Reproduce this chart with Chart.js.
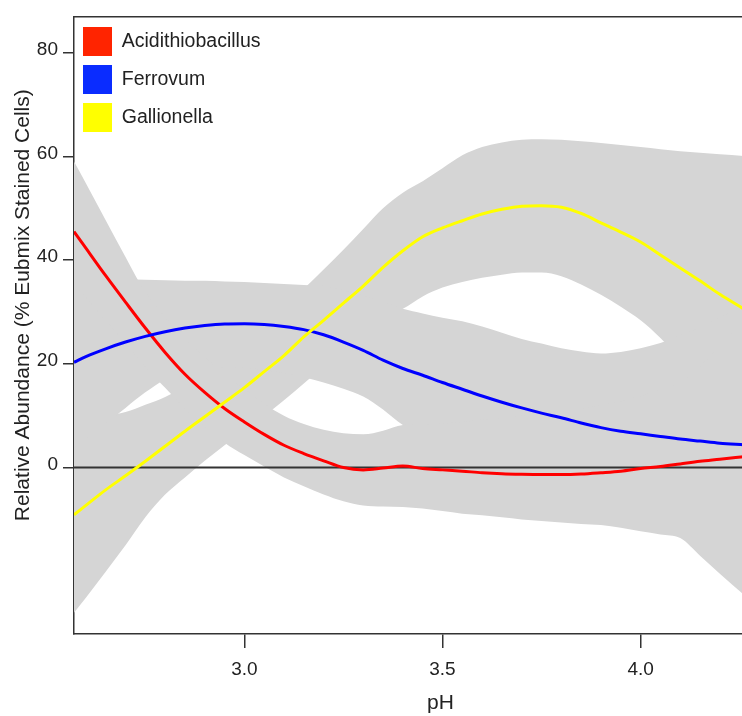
<!DOCTYPE html>
<html>
<head>
<meta charset="utf-8">
<script src="https://cdn.jsdelivr.net/npm/chart.js@4.4.1/dist/chart.umd.min.js"></script>
<style>
  html, body { margin: 0; padding: 0; background: #ffffff; }
  #wrap { width: 742px; height: 716px; overflow: hidden; position: relative; }
  canvas { display: block; }
</style>
</head>
<body>
<div id="wrap"><canvas id="c" width="815" height="716"></canvas></div>
<script>
// ---- data ----
const pH = [2.57, 2.6, 2.65, 2.7, 2.75, 2.8, 2.85, 2.9, 2.95, 3.0, 3.05, 3.1, 3.15, 3.2, 3.25, 3.3, 3.35, 3.4, 3.45, 3.5, 3.55, 3.6, 3.65, 3.7, 3.75, 3.8, 3.85, 3.9, 3.95, 4.0, 4.05, 4.1, 4.15, 4.2, 4.26];

const acidithiobacillus = [45.5, 42.3, 37.0, 31.9, 26.9, 22.2, 18.0, 14.5, 11.4, 8.8, 6.4, 4.3, 2.7, 1.3, 0.0, -0.45, -0.1, 0.3, -0.2, -0.45, -0.7, -1.0, -1.2, -1.3, -1.35, -1.35, -1.25, -1.0, -0.7, -0.2, 0.2, 0.7, 1.2, 1.6, 2.1];
const ferrovum = [20.3, 21.4, 22.9, 24.2, 25.3, 26.2, 26.9, 27.4, 27.7, 27.75, 27.6, 27.2, 26.6, 25.6, 24.2, 22.6, 20.7, 19.1, 17.8, 16.4, 15.1, 13.8, 12.6, 11.5, 10.5, 9.6, 8.6, 7.7, 7.0, 6.5, 6.0, 5.5, 5.1, 4.7, 4.4];
const gallionella = [-9.1, -7.3, -4.3, -1.6, 1.2, 4.1, 7.0, 9.8, 12.6, 15.4, 18.5, 21.6, 25.2, 28.4, 31.7, 35.0, 38.6, 41.8, 44.5, 46.2, 47.6, 48.9, 49.8, 50.4, 50.5, 50.2, 49.0, 47.2, 45.4, 43.5, 41.0, 38.5, 36.0, 33.4, 30.6];

const acidiLower = [35.5, 32.8, 28.3, 24.0, 19.4, 15.4, 11.4, 7.9, 4.8, 2.4, 0.2, -1.9, -3.6, -5.2, -6.5, -7.3, -7.5, -7.6, -7.9, -8.4, -8.9, -9.2, -9.6, -10.0, -10.3, -10.6, -10.9, -11.1, -11.6, -12.3, -12.9, -13.6, -17.0, -20.5, -24.5];
const acidiUpper = [59.0, 54.8, 47.7, 40.6, 33.8, 29.0, 24.8, 21.3, 18.0, 15.2, 12.3, 10.0, 8.4, 7.3, 6.6, 6.4, 7.1, 8.2, 8.3, 8.5, 8.8, 9.2, 9.6, 10.0, 10.4, 10.8, 11.3, 12.0, 12.8, 13.8, 15.0, 16.5, 19.5, 23.5, 28.0];
const ferroLower = [3.8, 5.5, 8.5, 11.5, 14.5, 17.0, 18.4, 19.1, 19.3, 19.2, 18.8, 18.2, 17.4, 16.4, 15.2, 13.7, 11.2, 8.2, 6.6, 5.0, 3.6, 2.0, 0.5, -1.0, -2.5, -4.0, -5.5, -7.0, -8.5, -10.0, -11.5, -13.0, -15.0, -17.0, -19.0];
const ferroUpper = [37.0, 36.8, 36.5, 36.3, 36.2, 36.1, 36.0, 36.0, 35.9, 35.8, 35.6, 35.4, 35.2, 35.0, 34.2, 33.2, 32.0, 30.6, 29.7, 28.9, 28.2, 27.2, 26.0, 24.8, 23.9, 23.0, 22.4, 22.0, 22.3, 23.0, 24.0, 25.5, 27.0, 29.0, 31.0];
const gallioLower = [-28.0, -25.1, -20.1, -15.0, -9.6, -5.2, -1.9, 1.3, 4.3, 7.2, 10.0, 13.0, 16.2, 19.5, 22.8, 26.0, 28.7, 30.6, 33.0, 34.7, 35.8, 36.6, 37.2, 37.6, 37.6, 36.9, 35.3, 33.3, 31.0, 28.4, 25.0, 21.0, 16.5, 11.5, 5.0];
const gallioUpper = [10.0, 10.0, 10.1, 10.7, 12.1, 13.6, 15.8, 18.6, 21.8, 24.8, 28.0, 31.2, 34.5, 38.2, 42.0, 46.0, 50.0, 53.0, 55.2, 57.7, 60.2, 61.8, 62.7, 63.2, 63.3, 63.2, 62.9, 62.6, 62.2, 61.8, 61.4, 61.0, 60.7, 60.4, 60.1];

const seriesNames = ['Acidithiobacillus', 'Ferrovum', 'Gallionella'];
const lineColors = ['#ff0000', '#0000ff', '#ffff00'];
const legendColors = ['#ff2400', '#0a2cff', '#ffff00'];
const xTicks = [3.0, 3.5, 4.0];
const yTicks = [0, 20, 40, 60, 80];
const xRange = [2.57, 4.42];
const yRange = [-32.1, 87.0];
const referenceLevel = 0;
const xTitle = 'pH';
const yTitle = 'Relative Abundance (% Eubmix Stained Cells)';

// ---- chart ----
const GREY = '#d5d5d5';
const AXIS = '#333333';
const FONT = "'Liberation Sans', Arial, Helvetica, sans-serif";
Chart.defaults.font.family = FONT;
Chart.defaults.color = '#222222';

const pts = ys => pH.map((x, i) => ({ x: x, y: ys[i] }));
const line = (label, ys, color, order) => ({
  label: label, data: pts(ys), borderColor: color, backgroundColor: color,
  borderWidth: 3, pointRadius: 0, fill: false, order: order,
  cubicInterpolationMode: 'monotone'
});
const band = (ys, fill) => ({
  label: '', data: pts(ys), borderWidth: 0, borderColor: GREY, backgroundColor: GREY,
  pointRadius: 0, fill: fill, order: 3, cubicInterpolationMode: 'monotone'
});

const datasets = [
  line(seriesNames[0], acidithiobacillus, lineColors[0], 0.2),
  line(seriesNames[1], ferrovum, lineColors[1], 0.1),
  line(seriesNames[2], gallionella, lineColors[2], 0),
  { label: '', data: [{ x: xRange[0], y: referenceLevel }, { x: xRange[1], y: referenceLevel }],
    borderColor: AXIS, borderWidth: 2, pointRadius: 0, fill: false, order: 1 },
  band(acidiLower, false),
  band(acidiUpper, '-1'),
  band(ferroLower, false),
  band(ferroUpper, '-1'),
  band(gallioLower, false),
  band(gallioUpper, '-1')
];

// legend placed inside the plot area, just below its top edge
const legendInside = {
  id: 'legendInside',
  afterLayout(chart) {
    const lg = chart.legend;
    if (!lg) return;
    const dy = chart.chartArea.top + 1.5 - lg.top;
    lg.top += dy; lg.bottom += dy;
  }
};
// rotated y axis title
const yTitlePlugin = {
  id: 'yTitlePlugin',
  afterDraw(chart) {
    const ctx = chart.ctx;
    const cy = (chart.chartArea.top + chart.chartArea.bottom) / 2 - 20;
    ctx.save();
    ctx.translate(23, cy);
    ctx.rotate(-Math.PI / 2);
    ctx.font = '21px ' + FONT;
    ctx.fillStyle = '#222222';
    ctx.textAlign = 'center';
    ctx.textBaseline = 'middle';
    ctx.fillText(yTitle, 0, 0);
    ctx.restore();
  }
};

new Chart(document.getElementById('c'), {
  type: 'line',
  data: { datasets: datasets },
  plugins: [legendInside, yTitlePlugin],
  options: {
    responsive: false,
    animation: false,
    devicePixelRatio: 1,
    layout: { padding: { top: 12, right: 8, left: 0, bottom: 0 } },
    plugins: {
      tooltip: { enabled: false },
      legend: {
        position: 'chartArea',
        align: 'start',
        labels: {
          boxWidth: 29, boxHeight: 29, padding: 9,
          font: { size: 19.5 }, color: '#222222',
          generateLabels: chart => Chart.defaults.plugins.legend.labels.generateLabels(chart)
            .map(l => Object.assign({}, l, {
              lineWidth: 0,
              fillStyle: l.datasetIndex < 3 ? legendColors[l.datasetIndex] : l.fillStyle
            })),
          filter: item => item.datasetIndex < 3,
          sort: (a, b) => a.datasetIndex - b.datasetIndex
        }
      }
    },
    scales: {
      x: {
        type: 'linear', position: 'bottom', min: xRange[0], max: xRange[1],
        afterBuildTicks: s => { s.ticks = xTicks.map(v => ({ value: v })); },
        afterFit: s => { s.height = 82; },
        grid: { display: true, drawOnChartArea: false, drawTicks: true, tickLength: 14, color: AXIS, lineWidth: 1.5 },
        border: { display: true, color: AXIS, width: 1.5 },
        ticks: { font: { size: 19 }, padding: 10, maxRotation: 0, autoSkip: false,
                 callback: v => Number(v).toFixed(1) },
        title: { display: true, text: xTitle, font: { size: 21 }, padding: { top: 0, bottom: 0 } }
      },
      xTop: {
        type: 'linear', position: 'top', min: xRange[0], max: xRange[1],
        grid: { display: false }, ticks: { display: false },
        border: { display: true, color: AXIS, width: 1.5 },
        afterFit: s => { s.height = 0; }
      },
      y: {
        type: 'linear', min: yRange[0], max: yRange[1],
        afterBuildTicks: s => { s.ticks = yTicks.map(v => ({ value: v })); },
        afterFit: s => { s.width = 74; },
        grid: { display: true, drawOnChartArea: false, drawTicks: true, tickLength: 11, color: AXIS, lineWidth: 1.5 },
        border: { display: true, color: AXIS, width: 1.5 },
        ticks: { font: { size: 19 }, padding: 5, labelOffset: -3 },
        title: { display: false }
      }
    }
  }
});
</script>
</body>
</html>
